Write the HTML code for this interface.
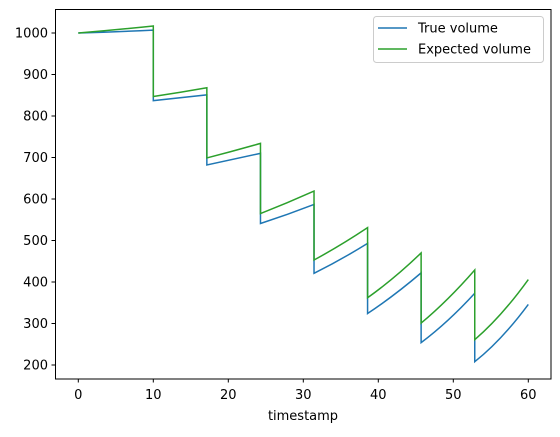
<!DOCTYPE html>
<html><head><meta charset="utf-8"><style>
body{margin:0;background:#fff;}
svg text{font-family:"DejaVu Sans","Liberation Sans",sans-serif;font-size:13px;fill:#000;}
</style></head><body>
<svg id="chart" width="560" height="432" xmlns="http://www.w3.org/2000/svg">
<rect x="0" y="0" width="560" height="432" fill="#fff"/>
<g id="marks"></g>
<g id="axes"></g>
<rect x="55.5" y="9.5" width="495.5" height="369.5" fill="none" stroke="#000" stroke-width="1"/>
<text x="303" y="420" text-anchor="middle">timestamp</text>
<g>
<rect x="373.5" y="16.5" width="170" height="46" rx="3" fill="#fff" fill-opacity="0.8" stroke="#ccc"/>
<line x1="378" y1="28" x2="407" y2="28" stroke="#1f77b4" stroke-width="1.5"/>
<text x="418" y="32.5">True volume</text>
<line x1="378" y1="49" x2="407" y2="49" stroke="#2ca02c" stroke-width="1.5"/>
<text x="418" y="53.5">Expected volume</text>
</g>
</svg>
<script>
const segStarts=[0,10,17.14,24.29,31.43,38.57,45.71,52.86];
const segEnds=[10,17.14,24.29,31.43,38.57,45.71,52.86,60];
const trueStart=[1000,837,682,541,421,324,254,208];
const trueMid=[1003,844,696,563,455,370,308,268];
const trueEnd=[1007,851,710,587,493,422,373,346];
const expStart=[1000,847,699,565,453,362,301,261];
const expMid=[1008,857,716,591,490,412,360,325];
const expEnd=[1017,868,734,619,531,470,429,406];
const xTicks=[0,10,20,30,40,50,60];
const yTicks=[200,300,400,500,600,700,800,900,1000];

const NS="http://www.w3.org/2000/svg";
function xs(t){return 78.3+t*7.5;}
function ys(v){return 33+(1000-v)*0.415;}
const marks=document.getElementById('marks');
const axes=document.getElementById('axes');

function seriesPath(s,m,e){
  let d="";
  for(let i=0;i<segStarts.length;i++){
    const x0=xs(segStarts[i]),x1=xs(segEnds[i]);
    const y0=ys(s[i]),ym=ys(m[i]),y1=ys(e[i]);
    const cx=(x0+x1)/2, cy=2*ym-(y0+y1)/2;
    d+=(i===0?"M":"L")+x0+","+y0+" Q"+cx+","+cy+" "+x1+","+y1+" ";
  }
  return d;
}
function addSeries(s,m,e,color,name){
  const p=document.createElementNS(NS,'path');
  p.setAttribute('d',seriesPath(s,m,e));
  p.setAttribute('fill','none');
  p.setAttribute('stroke',color);
  p.setAttribute('stroke-width','1.5');
  
  
  marks.appendChild(p);
}
addSeries(trueStart,trueMid,trueEnd,'#1f77b4','true-volume-line');
addSeries(expStart,expMid,expEnd,'#2ca02c','expected-volume-line');

xTicks.forEach(t=>{
  const x=xs(t);
  const l=document.createElementNS(NS,'line');
  l.setAttribute('x1',x);l.setAttribute('x2',x);l.setAttribute('y1',379);l.setAttribute('y2',382.5);
  l.setAttribute('stroke','#000');
  
  
  axes.appendChild(l);
  const tx=document.createElementNS(NS,'text');
  tx.setAttribute('x',x);tx.setAttribute('y',399);tx.setAttribute('text-anchor','middle');
  tx.textContent=t;
  
  
  axes.appendChild(tx);
});
yTicks.forEach(v=>{
  const y=ys(v);
  const l=document.createElementNS(NS,'line');
  l.setAttribute('x1',51.5);l.setAttribute('x2',55.5);l.setAttribute('y1',y);l.setAttribute('y2',y);
  l.setAttribute('stroke','#000');
  
  
  axes.appendChild(l);
  const tx=document.createElementNS(NS,'text');
  tx.setAttribute('x',48);tx.setAttribute('y',y+4.5);tx.setAttribute('text-anchor','end');
  tx.textContent=v;
  
  
  axes.appendChild(tx);
});
</script>
</body></html>
